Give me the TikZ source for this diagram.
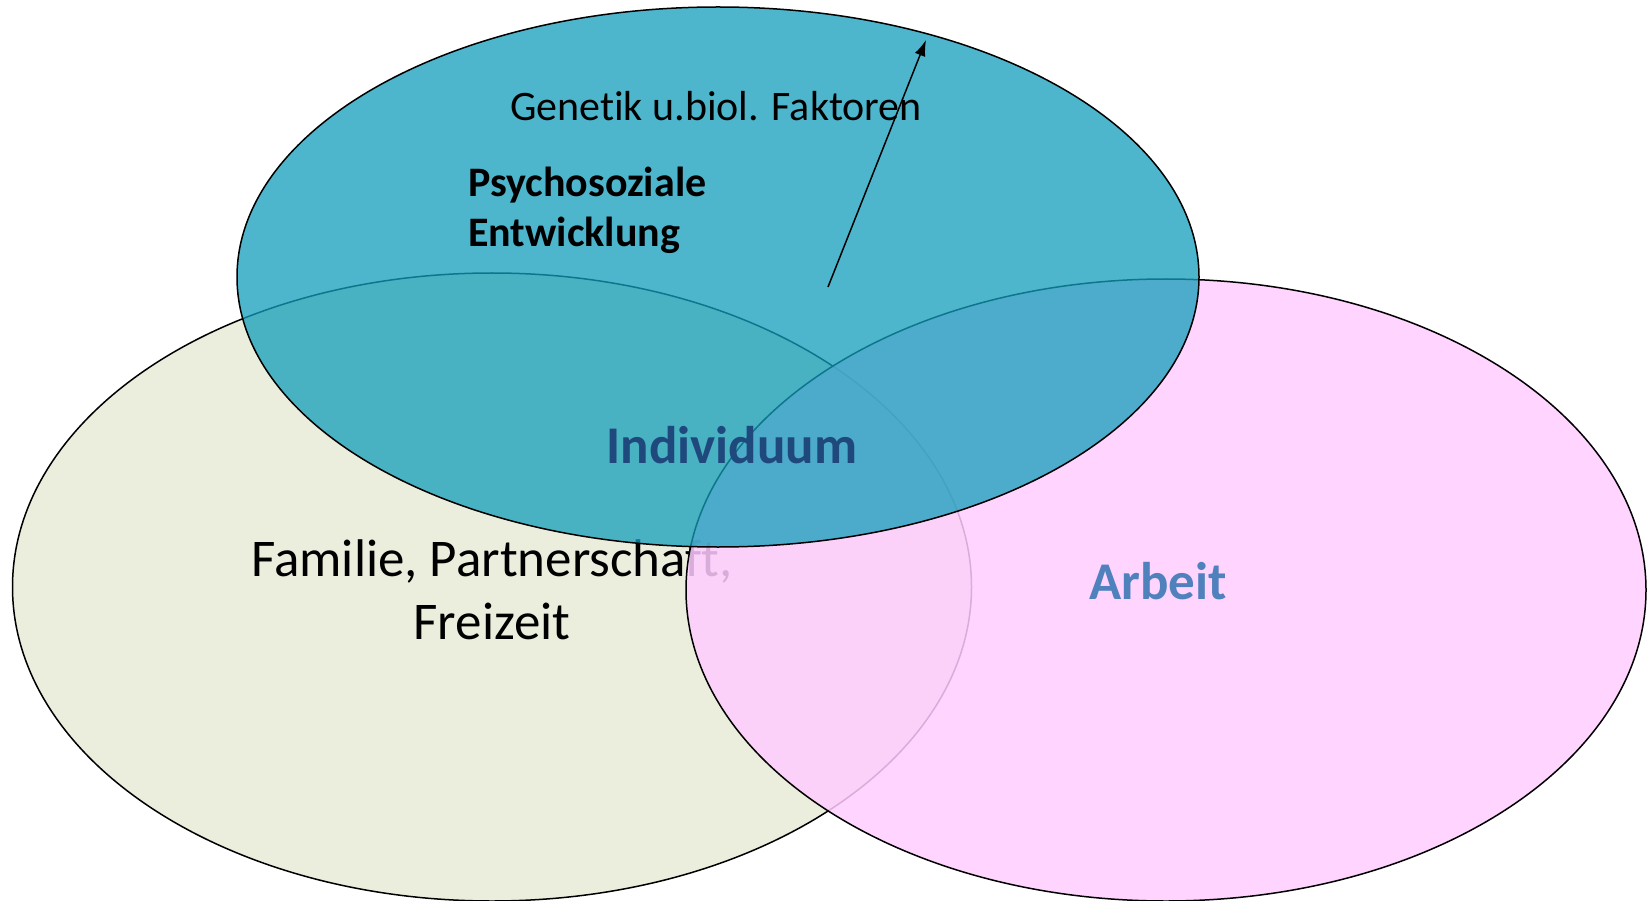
\documentclass[tikz,border=0pt]{standalone}
\usepackage{fontspec}
\setmainfont{Carlito}[Ligatures=NoCommon]
\usetikzlibrary{arrows.meta}
\definecolor{beigefill}{HTML}{EBEEDD}
\definecolor{pinkfill}{HTML}{FFCCFF}
\definecolor{tealfill}{HTML}{129EBB}
\definecolor{indblue}{HTML}{1F497D}
\definecolor{arbblue}{HTML}{4F81BD}
\tikzset{
  circ/.style={draw=black, line width=1.5pt},
  lbl/.style={inner sep=0pt, align=center},
  smalltext/.style={lbl, font=\fontsize{42}{50}\selectfont},
  bigtext/.style={lbl, font=\fontsize{53}{63}\selectfont},
  boldtext/.style={lbl, align=left, font=\fontsize{42}{50}\selectfont\bfseries},
  titletext/.style={lbl, font=\fontsize{53}{63}\selectfont\bfseries},
  pfeil/.style={line width=1.5pt, -{Latex[length=16pt,width=11pt]}}
}
\begin{document}
\begin{tikzpicture}[x=1pt,y=-1pt]
\useasboundingbox (0,0) rectangle (1647,901);
% Familie ellipse
\draw[circ, fill=beigefill] (492,587) ellipse [x radius=479.5pt, y radius=314pt];
\node[bigtext, anchor=center] (fam) at (492,590) {Familie, Partnerschaft,\\Freizeit};
% Arbeit ellipse
\draw[circ, fill=pinkfill, fill opacity=0.85] (1166,590) ellipse [x radius=480pt, y radius=311pt];
% Individuum ellipse
\draw[circ, fill=tealfill, fill opacity=0.75] (718,277) ellipse [x radius=481pt, y radius=270pt];
% texts
\node[smalltext] (gen) at (716,106) {Genetik u.biol. Faktoren};
\node[boldtext, anchor=west] (psy) at (468,210) {Psychosoziale\\Entwicklung};
\node[titletext, text=indblue] (ind) at (732,445) {Individuum};
\node[titletext, text=arbblue] (arb) at (1158,581) {Arbeit};
% arrow
\coordinate (aS) at (828,287);
\coordinate (aE) at (926,40);
\draw[pfeil] (aS) -- (aE);
\end{tikzpicture}
\end{document}
